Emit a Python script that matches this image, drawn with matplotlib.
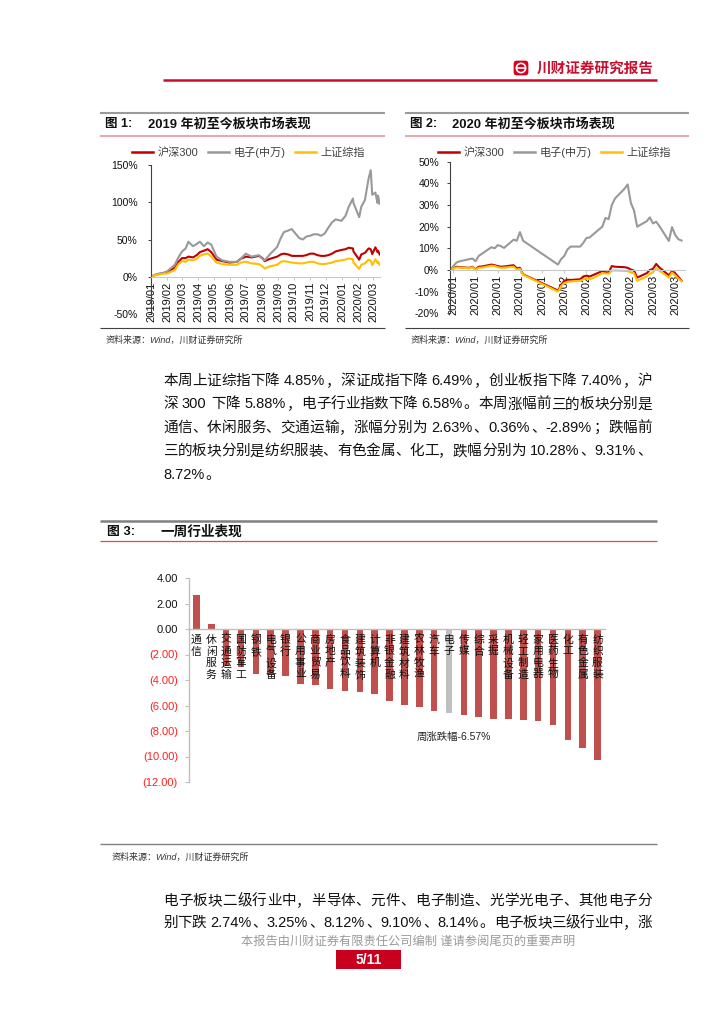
import matplotlib
matplotlib.use('Agg')
import matplotlib.pyplot as plt
import matplotlib.dates as mdates
import pandas as pd
import numpy as np
from matplotlib.lines import Line2D
from matplotlib.patches import FancyBboxPatch, Rectangle, Circle

CJK = 'Noto Sans CJK SC'
LAT = 'Liberation Sans'
plt.rcParams['font.family'] = [LAT, CJK]
plt.rcParams['axes.unicode_minus'] = False

# ---------------- data ----------------
# Figure 1: 2019 YTD cumulative return (%)
fig1_dates = ['2018-12-31', '2019-01-11', '2019-01-25', '2019-02-01', '2019-02-15', '2019-02-22',
              '2019-03-01', '2019-03-08', '2019-03-13', '2019-03-22', '2019-03-29', '2019-04-04',
              '2019-04-12', '2019-04-19', '2019-04-26', '2019-05-06', '2019-05-17', '2019-05-31',
              '2019-06-14', '2019-06-21', '2019-07-01', '2019-07-12', '2019-07-26', '2019-08-02',
              '2019-08-06', '2019-08-16', '2019-08-30', '2019-09-06', '2019-09-12', '2019-09-20',
              '2019-09-27', '2019-10-11', '2019-10-18', '2019-10-25', '2019-11-01', '2019-11-08',
              '2019-11-15', '2019-11-22', '2019-11-29', '2019-12-06', '2019-12-13', '2019-12-20',
              '2019-12-31', '2020-01-08', '2020-01-14', '2020-01-22', '2020-01-23', '2020-02-03',
              '2020-02-07', '2020-02-14', '2020-02-21', '2020-02-25', '2020-02-28', '2020-03-05',
              '2020-03-09', '2020-03-10', '2020-03-13']
fig1_hs300 = [0, 3.0, 5.0, 6.5, 12, 20, 25, 25, 27, 26, 29, 33, 35, 37, 33, 23, 21, 19, 20, 24,
              27, 26, 28, 25, 21, 24, 27, 30, 31, 30, 28, 28, 28, 29, 31, 31, 29, 28, 28, 29, 31,
              34, 36, 37, 39, 38, 34, 23, 30, 32, 38, 37, 30.5, 39.5, 33, 35, 30]
fig1_elec = [0, 3.5, 5.5, 7.5, 16, 26, 34, 38, 47, 41, 44, 47, 41, 46, 43, 27, 22, 20, 20, 24,
             31, 27, 29, 24, 22, 30, 40, 52, 60, 62, 64, 52, 50, 54, 55, 57, 57, 55, 58, 66, 73,
             77, 75, 82, 94, 105, 99, 80, 94, 103, 132, 143, 110, 113, 99, 109, 98]
fig1_sh = [0, 2.5, 4.0, 4.5, 9, 17, 21, 20, 23, 22, 24, 28, 30, 31, 27, 19, 17, 16, 16, 19,
           20, 18, 17, 14, 11, 14, 16, 20, 21, 20, 19, 18, 18, 19, 20, 20, 18, 17, 17, 18, 19,
           21, 22, 23, 24.5, 23.5, 19, 10.5, 16, 18, 23, 21.5, 15.5, 23.5, 18.5, 20.5, 16]
fig1_labels = ['沪深300', '电子(中万)', '上证综指']

# Figure 2: 2020 YTD cumulative return (%)
fig2_dates = ['2019-12-31', '2020-01-02', '2020-01-03', '2020-01-06', '2020-01-07', '2020-01-08',
              '2020-01-09', '2020-01-10', '2020-01-13', '2020-01-14', '2020-01-15', '2020-01-16',
              '2020-01-17', '2020-01-20', '2020-01-21', '2020-01-22', '2020-01-23', '2020-02-03',
              '2020-02-04', '2020-02-05', '2020-02-06', '2020-02-07', '2020-02-10', '2020-02-11',
              '2020-02-12', '2020-02-13', '2020-02-14', '2020-02-17', '2020-02-18', '2020-02-19',
              '2020-02-20', '2020-02-21', '2020-02-24', '2020-02-25', '2020-02-26', '2020-02-27',
              '2020-02-28', '2020-03-02', '2020-03-03', '2020-03-04', '2020-03-05', '2020-03-06',
              '2020-03-09', '2020-03-10', '2020-03-11', '2020-03-12', '2020-03-13']
fig2_hs300 = [0, 1.5, 1.3, 1.0, 1.5, 0.3, 1.5, 1.6, 2.5, 2.2, 1.8, 1.5, 1.6, 2.2, 0.8, 1.0, -2.0,
              -9.5, -7.0, -5.0, -4.5, -4.6, -4.3, -3.0, -2.6, -3.0, -2.4, -0.5, -1.0, -1.1, 1.8,
              1.5, 1.3, 1.0, 0.2, -0.3, -3.5, -1.5, 0.0, 0.5, 2.8, 1.2, -2.5, -0.5, -1.5, -3.2, -5.0]
fig2_elec = [0, 3.5, 4.0, 5.0, 5.3, 4.0, 6.5, 7.5, 10.5, 10.0, 11.5, 11.0, 10.2, 14.0, 13.5, 17.5,
             13.5, 2.5, 5.0, 6.5, 9.5, 10.8, 10.8, 12.5, 14.8, 15.0, 16.3, 20.0, 24.0, 23.5, 30.0,
             33.0, 37.5, 39.5, 31.0, 27.5, 20.0, 22.5, 24.3, 21.5, 22.3, 20.3, 13.4, 19.8, 16.2,
             14.2, 13.6]
fig2_sh = [0, 1.2, 1.1, 0.8, 1.3, 0.1, 1.0, 1.1, 2.0, 1.8, 1.3, 1.0, 1.1, 1.5, 0.2, 0.5, -2.2,
           -10.0, -7.5, -6.0, -5.5, -5.3, -5.0, -4.3, -3.8, -4.3, -3.8, -1.5, -1.6, -1.7, -0.3,
           -0.2, -0.4, -0.5, -1.2, -1.5, -5.0, -3.0, -1.8, -1.0, 1.0, -0.3, -3.5, -1.2, -2.5,
           -4.0, -5.2]

# Figure 3: weekly industry performance (%)
fig3_industries = ['通信', '休闲服务', '交通运输', '国防军工', '钢铁', '电气设备', '银行', '公用事业',
                   '商业贸易', '房地产', '食品饮料', '建筑装饰', '计算机', '非银金融', '建筑材料',
                   '农林牧渔', '汽车', '电子', '传媒', '综合', '采掘', '机械设备', '轻工制造',
                   '家用电器', '医药生物', '化工', '有色金属', '纺织服装']
fig3_values = [2.63, 0.36, -2.89, -2.95, -3.54, -3.62, -3.72, -4.32, -4.38, -4.72, -4.85, -4.98,
               -5.11, -5.66, -5.98, -6.08, -6.47, -6.57, -6.71, -6.87, -7.05, -7.08, -7.16, -7.21,
               -7.55, -8.72, -9.31, -10.28]
fig3_highlight = '电子'
fig3_note = '周涨跌幅-6.57%'

para1 = ['本周上证综指下降 4.85%，深证成指下降 6.49%，创业板指下降 7.40%，沪',
         '深 300 下降 5.88%，电子行业指数下降 6.58%。本周涨幅前三的板块分别是',
         '通信、休闲服务、交通运输，涨幅分别为 2.63%、0.36%、-2.89%；跌幅前',
         '三的板块分别是纺织服装、有色金属、化工，跌幅分别为 10.28%、9.31%、',
         '8.72%。']
para2 = ['电子板块二级行业中，半导体、元件、电子制造、光学光电子、其他电子分',
         '别下跌 2.74%、3.25%、8.12%、9.10%、8.14%。电子板块三级行业中，涨']

# ---------------- figure ----------------
W, H = 724, 1024
fig = plt.figure(figsize=(W / 100, H / 100), dpi=100)
RED = '#C00000'
GRAY = '#999999'
YEL = '#FFC000'
BAR = '#C0504D'


def X(px):
    return px / W


def Y(py):
    return 1 - py / H


def rect(l, t, r, b):
    return [X(l), Y(b), (r - l) / W, (b - t) / H]


def hline(y, x0, x1, color, lw):
    fig.add_artist(Line2D([X(x0), X(x1)], [Y(y), Y(y)], transform=fig.transFigure,
                          color=color, lw=lw, solid_capstyle='butt'))


def ftext(x, y, s, **kw):
    return fig.text(X(x), Y(y), s, **kw)


# header
hline(80, 163, 657, '#C8102E', 1.8)
axl = fig.add_axes(rect(513, 60, 529, 76))
axl.set_xlim(0, 1)
axl.set_ylim(0, 1)
axl.axis('off')
axl.add_patch(FancyBboxPatch((0.04, 0.04), 0.92, 0.92, boxstyle='round,pad=0,rounding_size=0.2',
                             fc='#D7001F', ec='none'))
axl.add_patch(Circle((0.5, 0.5), 0.29, fill=False, ec='white', lw=1.2))
axl.plot([0.26, 0.74], [0.5, 0.5], color='white', lw=1.2)
ftext(537, 69, '川财证券研究报告', color='#C8102E', fontsize=10.5, va='center', ha='left',
      fontweight='bold')

# panel decorations fig1 / fig2
for (x0, x1, num, title, tx) in [(100, 385, '图 1:', '2019 年初至今板块市场表现', 148),
                                 (405, 689, '图 2:', '2020 年初至今板块市场表现', 452)]:
    hline(113, x0, x1, '#9A9A9A', 1.5)
    ftext(x0 + 5, 124.5, num, fontsize=9, fontweight='bold', va='center', color='#111111')
    ftext(tx, 124.5, title, fontsize=9.4, fontweight='bold', va='center', color='#111111')
    hline(136, x0, x1, '#E8A0A0', 1.3)
    hline(328, x0, x1, '#404040', 0.8)
    ftext(x0 + 6, 340, '资料来源：Wind，川财证券研究所', fontsize=6.5, style='italic',
          color='#333333', va='center')

# ---------------- Figure 1 ----------------
ax1 = fig.add_axes(rect(150.7, 165, 380.1, 314))
d1 = pd.to_datetime(fig1_dates)
ax1.plot(d1, fig1_hs300, color=RED, lw=1.5)
ax1.plot(d1, fig1_elec, color=GRAY, lw=1.5)
ax1.plot(d1, fig1_sh, color=YEL, lw=1.5)
ax1.set_xlim(pd.Timestamp('2018-12-31'), pd.Timestamp('2020-03-14'))
ax1.set_ylim(-50, 150)
ax1.set_yticks([-50, 0, 50, 100, 150], labels=['-50%', '0%', '50%', '100%', '150%'])
ax1.xaxis.set_major_locator(mdates.MonthLocator())
ax1.xaxis.set_major_formatter(mdates.DateFormatter('%Y/%m'))

# ---------------- Figure 2 ----------------
ax2 = fig.add_axes(rect(450.2, 161.7, 684.7, 313.3))
d2 = pd.to_datetime(fig2_dates)
ax2.plot(d2, fig2_hs300, color=RED, lw=1.5)
ax2.plot(d2, fig2_elec, color=GRAY, lw=1.5)
ax2.plot(d2, fig2_sh, color=YEL, lw=1.5)
ax2.set_xlim(pd.Timestamp('2019-12-31'), pd.Timestamp('2020-03-14'))
ax2.set_ylim(-20, 50)
yt2 = list(range(-20, 51, 10))
ax2.set_yticks(yt2, labels=[f'{v}%' for v in yt2])
wk = pd.date_range('2020-01-01', '2020-03-11', freq='7D')
ax2.set_xticks(wk, labels=[d.strftime('%Y/%m') for d in wk])

for ax, lpad, legx in [(ax1, 7, 132), (ax2, 5.5, 438)]:
    ax.patch.set_alpha(0)
    for s in ['top', 'right']:
        ax.spines[s].set_visible(False)
    ax.spines['bottom'].set_position(('data', 0))
    ax.spines['bottom'].set_color('#C8C8C8')
    ax.spines['bottom'].set_linewidth(0.8)
    ax.spines['left'].set_color('#404040')
    ax.spines['left'].set_linewidth(0.8)
    ax.tick_params(axis='x', direction='out', length=2.5, width=0.7, color='#C8C8C8',
                   labelsize=8, labelrotation=90, pad=1, labelcolor='#111111')
    ax.tick_params(axis='y', direction='out', length=2.5, width=0.7, color='#404040',
                   labelsize=7.5, pad=lpad, labelcolor='#111111')
    handles = [Line2D([], [], color=c, lw=1.8) for c in (RED, GRAY, YEL)]
    ax.legend(handles, fig1_labels, ncol=3, loc='center left',
              bbox_to_anchor=(X(legx), Y(152.5)), bbox_transform=fig.transFigure,
              frameon=False, fontsize=8, handlelength=1.9, handletextpad=0.4,
              columnspacing=0.85, borderpad=0, borderaxespad=0, labelcolor='#404040')

# ---------------- Figure 3 ----------------
hline(521, 100, 657, '#808080', 1.8)
ftext(107, 532, '图 3:', fontsize=9.3, fontweight='bold', va='center', color='#111111')
ftext(160, 532, '一周行业表现', fontsize=9.8, fontweight='bold', va='center', color='#111111')
hline(541, 100, 657, '#E04848', 0.9)
hline(844, 100, 657, '#808080', 1.0)
ftext(112, 857, '资料来源：Wind，川财证券研究所', fontsize=6.5, style='italic',
      color='#333333', va='center')

ax3 = fig.add_axes(rect(189, 578, 605, 782))
x3 = np.arange(len(fig3_industries))
cols = ['#BFBFBF' if n == fig3_highlight else BAR for n in fig3_industries]
ax3.bar(x3, fig3_values, width=0.45, color=cols)
ax3.set_xlim(-0.5, len(fig3_industries) - 0.5)
ax3.set_ylim(-12, 4)
yt3 = list(range(-12, 5, 2))
ax3.set_yticks(yt3, labels=[f'{v:.2f}' if v >= 0 else f'({abs(v):.2f})' for v in yt3])
for lbl, v in zip(ax3.get_yticklabels(), yt3):
    lbl.set_color('#111111' if v >= 0 else '#FF2020')
ax3.set_xticks(x3, labels=['\n'.join(n) for n in fig3_industries])
for lbl in ax3.get_xticklabels():
    lbl.set_linespacing(1.0)
ax3.patch.set_alpha(0)
for s in ['top', 'right']:
    ax3.spines[s].set_visible(False)
ax3.spines['bottom'].set_position(('data', 0))
for s in ['bottom', 'left']:
    ax3.spines[s].set_color('#BFBFBF')
    ax3.spines[s].set_linewidth(1.0)
ax3.tick_params(axis='x', length=0, pad=4, labelsize=7.8, labelcolor='#111111')
ax3.tick_params(axis='y', direction='out', length=3, width=0.8, color='#BFBFBF',
                labelsize=8, pad=5)
ax3.text(17.3, -8.5, fig3_note, ha='center', va='center', fontsize=7.5, color='#222222')

# ---------------- body text ----------------
renderer = fig.canvas.get_renderer()


def justify_line(s, x0, x1, y_base, fs, justify=True, color='#111111'):
    tokens = []
    buf = ''
    for ch in s:
        if ch == ' ':
            if buf:
                tokens.append(buf)
                buf = ''
            tokens.append(' ')
        elif ord(ch) < 0x2E80:
            buf += ch
        else:
            if buf:
                tokens.append(buf)
                buf = ''
            tokens.append(ch)
    if buf:
        tokens.append(buf)
    em = fs * 100 / 72
    objs, widths = [], []
    for tok in tokens:
        if tok == ' ':
            objs.append(None)
            widths.append(0.28 * em)
        else:
            t = fig.text(0, Y(y_base), tok, fontsize=fs, va='baseline', ha='left', color=color)
            if ord(tok[0]) >= 0x2E80:
                w = em
            else:
                w = t.get_window_extent(renderer).width + 0.1 * em
            objs.append(t)
            widths.append(w)
    total = sum(widths)
    gaps = len(tokens) - 1
    extra = (x1 - x0 - total) / gaps if (justify and gaps > 0) else 0
    xx = x0
    for t, w in zip(objs, widths):
        if t is not None:
            t.set_x(X(xx))
        xx += w + extra


FS = 10.5
for i, line in enumerate(para1):
    justify_line(line, 163, 652, 380 + 23.4 * i + 5, FS, justify=(i < len(para1) - 1))
for i, line in enumerate(para2):
    justify_line(line, 163, 652, 900 + 22 * i + 5, FS, justify=True)

# footer
ftext(408, 942, '本报告由川财证券有限责任公司编制 谨请参阅尾页的重要声明', fontsize=8.8,
      color='#9A9A9A', ha='center', va='center')
fig.add_artist(Rectangle((X(336), Y(969)), 65 / W, 19 / H, transform=fig.transFigure,
                         fc='#C8001E', ec='none'))
ftext(368.5, 960, '5/11', fontsize=10, fontweight='bold', color='white', ha='center',
      va='center')

fig.savefig('out.png', dpi=100)
